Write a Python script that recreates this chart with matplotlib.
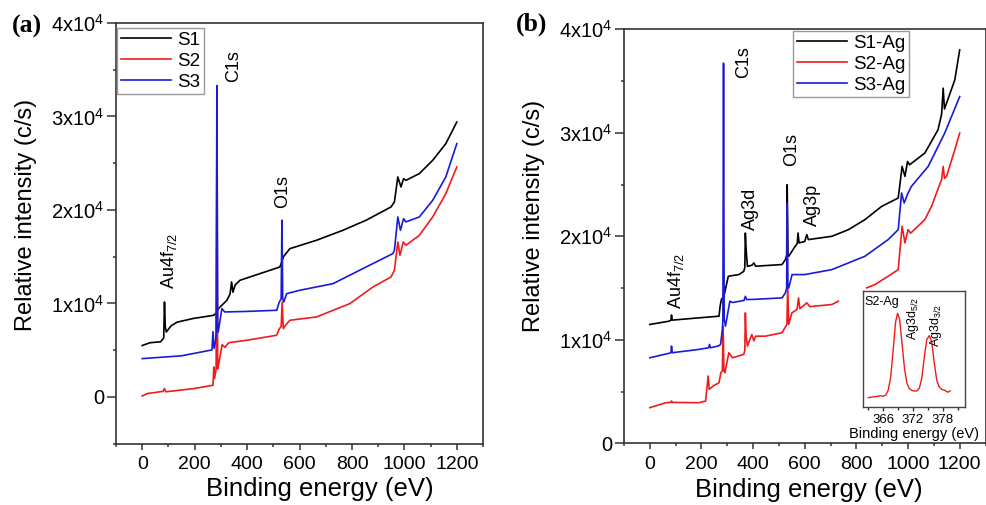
import numpy as np
import matplotlib
matplotlib.use("Agg")
import matplotlib.pyplot as plt
from matplotlib.ticker import FixedLocator, MultipleLocator

plt.rcParams['font.family'] = ['Liberation Sans', 'DejaVu Sans']
plt.rcParams['mathtext.default'] = 'regular'

# ── (a) espectros XPS de las muestras sin plata ──
E_S1 = [0, 30, 70, 82, 85, 88, 92, 110, 133, 196, 272, 280, 291, 323, 335, 341, 346, 355,
        373, 449, 525, 532, 538, 563, 665, 766, 854, 949, 962, 975, 987, 997, 1006, 1057,
        1108, 1158, 1200]
I_S1 = [5500, 5800, 5900, 6300, 10150, 7500, 6950, 7600, 8000, 8400, 8730, 8900, 9450, 10340,
        11000, 12300, 11200, 12000, 12480, 13190, 13900, 14400, 14970, 15860, 16760, 17830,
        18900, 20320, 20860, 23530, 22460, 23350, 23170, 23890, 25310, 27090, 29410]

E_S2 = [0, 19, 80, 85, 90, 196, 270, 273, 276, 282, 285, 288, 291, 305, 315, 330, 399, 513,
        523, 530, 534, 538, 545, 563, 665, 792, 880, 949, 962, 975, 983, 996, 1006, 1057,
        1108, 1158, 1200]
I_S2 = [100, 360, 600, 900, 550, 890, 1250, 3210, 1960, 3000, 28500, 3000, 3400, 5600, 5300,
        5800, 6060, 6600, 7310, 7500, 10160, 7310, 7600, 8200, 8560, 9980, 11760, 12830,
        13550, 16580, 15150, 16580, 16220, 17290, 19250, 21750, 24600]

E_S3 = [0, 150, 266, 270, 274, 280, 282, 285, 288, 290, 304, 315, 400, 513, 523, 530, 533,
        536, 540, 551, 601, 728, 854, 956, 962, 975, 985, 997, 1006, 1057, 1108, 1158, 1200]
I_S3 = [4100, 4400, 5030, 6980, 5200, 6000, 7000, 33300, 7000, 6950, 9450, 9090, 9150, 9270,
        10160, 10500, 18900, 10500, 10160, 11050, 11410, 12120, 13900, 15330, 15690, 19250,
        17830, 19070, 18720, 19250, 21030, 23530, 27090]

# ── (b) espectros XPS con plata ──
E_S1Ag = [0, 75, 82, 84, 87, 190, 268, 272, 277, 287, 304, 345, 364, 368, 370, 373, 378, 395,
          403, 410, 512, 525, 530, 532, 535, 538, 563, 571, 574, 578, 600, 608, 614, 705, 769,
          833, 898, 962, 977, 988, 998, 1006, 1065, 1116, 1130, 1136, 1141, 1149, 1181, 1200]
I_S1Ag = [11480, 11800, 11900, 12400, 11900, 12120, 12280, 13200, 13890, 14210, 16140, 16300,
          16620, 17000, 20320, 18700, 17100, 17200, 17430, 17110, 17270, 17750, 18200, 24980,
          18200, 18070, 19040, 19300, 20320, 19360, 19500, 20160, 19680, 20000, 20640, 21610,
          22890, 23700, 26750, 25790, 27230, 26910, 28040, 30290, 31800, 34310, 32300, 32860,
          35110, 38010]

E_S2Ag = [0, 62, 82, 84, 87, 190, 216, 226, 230, 245, 268, 275, 281, 284, 287, 291, 306, 320,
          364, 368, 370, 373, 378, 384, 395, 403, 410, 448, 512, 527, 531, 534, 538, 550, 570,
          576, 581, 608, 620, 705, 730, 735, 840, 872, 923, 962, 977, 988, 1000, 1010, 1065,
          1091, 1130, 1136, 1141, 1149, 1181, 1200]
I_S2Ag = [3440, 3920, 3950, 4080, 3950, 3920, 4080, 6500, 5210, 5530, 5850, 6820, 7000, 11320,
          7000, 6820, 8750, 8260, 8590, 9000, 12600, 10350, 9390, 9800, 10510, 9900, 10350,
          10350, 10680, 11320, 11500, 15180, 11480, 12600, 12930, 14050, 13000, 13570, 13200,
          13410, 13730, np.nan, 15020, 15340, 16140, 16780, 20960, 19360, 20640, 20300, 21610,
          22890, 25500, 26750, 25600, 25790, 28360, 29970]

E_S3Ag = [0, 75, 82, 84, 87, 190, 228, 231, 235, 265, 274, 281, 283, 285.5, 288, 293, 310, 320,
          365, 370, 375, 400, 512, 525, 530, 532, 535, 538, 551, 600, 705, 833, 923, 962, 975,
          985, 1000, 1013, 1078, 1142, 1200]
I_S3Ag = [8260, 8700, 8750, 9390, 8750, 9070, 9230, 9550, 9230, 9400, 9550, 11000, 12000, 36720,
          12000, 11320, 13730, 13600, 13800, 14200, 13890, 13900, 14050, 14530, 15000, 23220,
          15000, 15020, 16300, 16300, 16780, 18070, 19680, 20640, 24180, 23220, 24180, 24820,
          26750, 29970, 33500]

# alta resolución Ag3d (S2-Ag), intensidad normalizada
E_Ag3d = [363.0, 364.0, 365.0, 365.5, 366.0, 366.5, 367.0, 367.5, 368.0, 368.5, 368.9, 369.3,
          369.8, 370.3, 370.8, 371.3, 371.8, 372.3, 372.8, 373.3, 373.8, 374.3, 374.8, 375.3,
          375.8, 376.3, 376.8, 377.3, 377.8, 378.5, 379.0, 379.5]
I_Ag3d = [0.078, 0.085, 0.09, 0.095, 0.09, 0.10, 0.14, 0.25, 0.48, 0.73, 0.807, 0.76, 0.55,
          0.33, 0.20, 0.155, 0.14, 0.135, 0.136, 0.16, 0.25, 0.43, 0.58, 0.614, 0.56, 0.38, 0.23,
          0.17, 0.15, 0.14, 0.125, 0.136]

YTICKS = [0, 10000, 20000, 30000, 40000]
YTICKLABELS = ['0', '1x10$^4$', '2x10$^4$', '3x10$^4$', '4x10$^4$']

NEGRO = 'black'
ROJO = '#ee1c1c'
AZUL = '#1a1ad8'


def estilo_ejes(ax, ymin, xlab_pos, ylab_y):
    ax.set_xlim(-100, 1300)
    ax.set_ylim(ymin, 40000)
    ax.xaxis.set_major_locator(MultipleLocator(200))
    ax.xaxis.set_minor_locator(MultipleLocator(100))
    ax.yaxis.set_major_locator(FixedLocator(YTICKS))
    ax.set_yticklabels(YTICKLABELS)
    ax.yaxis.set_minor_locator(MultipleLocator(5000))
    ax.tick_params(axis='x', which='major', direction='out', length=4, width=1.1,
                   labelsize=14, pad=5, colors='#333333', labelcolor='black')
    ax.tick_params(axis='x', which='minor', direction='out', length=2.5, width=1.1,
                   colors='#333333')
    ax.tick_params(axis='y', which='major', direction='out', length=6.5, width=1.1,
                   labelsize=14.5, pad=2, colors='#333333', labelcolor='black')
    ax.tick_params(axis='y', which='minor', direction='out', length=2.5, width=1.1,
                   colors='#333333')
    for s in ax.spines.values():
        s.set_linewidth(1.2)
        s.set_color('#333333')
    ax.set_xlabel('Binding energy (eV)', fontsize=18.5)
    ax.set_ylabel('Relative intensity (c/s)', fontsize=17, labelpad=10)
    ax.xaxis.set_label_coords(*xlab_pos)
    ax.yaxis.label.set_y(ylab_y)


fig = plt.figure(figsize=(9.87, 5.05), dpi=100)

# ── panel (a) ──
ax1 = fig.add_axes([0.1175, 0.1214, 0.3719, 0.8331])
ax1.plot(E_S1, I_S1, color=NEGRO, lw=1.2, label='S1')
ax1.plot(E_S2, I_S2, color=ROJO, lw=1.2, label='S2')
ax1.plot(E_S3, I_S3, color=AZUL, lw=1.2, label='S3')
estilo_ejes(ax1, -5000, (0.556, -0.08), 0.544)
ax1.legend(loc='upper left', bbox_to_anchor=(0.003, 0.988), borderaxespad=0,
           fontsize=13.5, handlelength=2.7, handletextpad=0.3, labelspacing=0.2,
           borderpad=0.2, fancybox=False, edgecolor='#999999', framealpha=1)
ax1.text(347, 35400, 'C1s', rotation=90, ha='center', va='center', fontsize=13)
ax1.text(534, 21960, 'O1s', rotation=90, ha='center', va='center', fontsize=13)
ax1.text(101, 14570, 'Au4f$_{7/2}$', rotation=90, ha='center', va='center', fontsize=13)

# ── panel (b) ──
ax2 = fig.add_axes([0.6322, 0.1222, 0.3663, 0.8198])
ax2.plot(E_S1Ag, I_S1Ag, color=NEGRO, lw=1.2, label='S1-Ag')
ax2.plot(E_S2Ag, I_S2Ag, color=ROJO, lw=1.2, label='S2-Ag')
ax2.plot(E_S3Ag, I_S3Ag, color=AZUL, lw=1.2, label='S3-Ag')
estilo_ejes(ax2, 0, (0.51, -0.083), 0.549)
ax2.legend(loc='upper left', bbox_to_anchor=(0.467, 0.996), borderaxespad=0,
           fontsize=13.5, handlelength=2.7, handletextpad=0.3, labelspacing=0.2,
           borderpad=0.2, fancybox=False, edgecolor='#999999', framealpha=1)
ax2.text(364, 36880, 'C1s', rotation=90, ha='center', va='center', fontsize=13)
ax2.text(550, 28360, 'O1s', rotation=90, ha='center', va='center', fontsize=13)
ax2.text(390, 22640, 'Ag3d', rotation=90, ha='center', va='center', fontsize=13)
ax2.text(628, 23050, 'Ag3p', rotation=90, ha='center', va='center', fontsize=13)
ax2.text(100, 15660, 'Au4f$_{7/2}$', rotation=90, ha='center', va='center', fontsize=13)

# recuadro: Ag3d de S2-Ag
axi = fig.add_axes([0.8747, 0.1947, 0.1030, 0.2291])
axi.plot(E_Ag3d, I_Ag3d, color=ROJO, lw=1.0)
axi.set_xlim(362, 382.5)
axi.set_ylim(0, 1)
axi.set_xticks([366, 372, 378])
axi.xaxis.set_minor_locator(MultipleLocator(3))
axi.set_yticks([])
axi.tick_params(axis='x', which='major', direction='out', length=3, width=1,
                labelsize=9.5, pad=2, colors='#333333', labelcolor='black')
axi.tick_params(axis='x', which='minor', direction='out', length=2, width=1,
                colors='#333333')
for s in axi.spines.values():
    s.set_linewidth(1.0)
    s.set_color('#444444')
axi.set_xlabel('Binding energy (eV)', fontsize=10.5, labelpad=1)
axi.text(362.2, 0.907, 'S2-Ag', ha='left', va='center', fontsize=9)
axi.text(372.0, 0.764, 'Ag3d$_{5/2}$', rotation=90, ha='center', va='center', fontsize=9)
axi.text(376.6, 0.706, 'Ag3d$_{3/2}$', rotation=90, ha='center', va='center', fontsize=9)

fig.text(0.0122, 0.9485, '(a)', fontfamily='Liberation Serif', fontweight='bold',
         fontsize=18.5, va='center', ha='left')
fig.text(0.5228, 0.952, '(b)', fontfamily='Liberation Serif', fontweight='bold',
         fontsize=18.5, va='center', ha='left')

fig.savefig('out.png', dpi=100)
